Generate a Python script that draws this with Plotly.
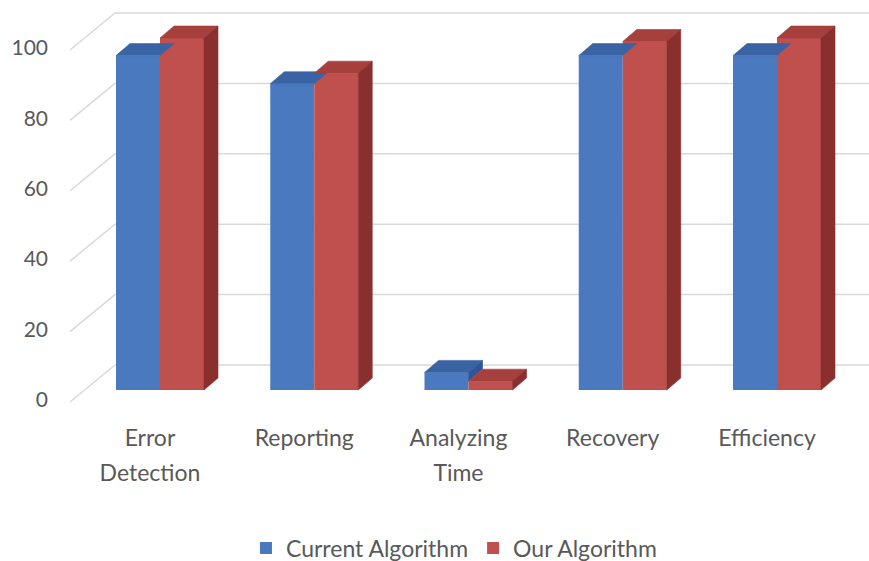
import plotly.graph_objects as go

categories = ["Error<br>Detection", "Reporting", "Analyzing<br>Time", "Recovery", "Efficiency"]
current_alg = [95, 87, 5, 95, 95]
our_alg = [100, 90, 2.5, 99, 100]
y_ticks = [0, 20, 40, 60, 80, 100]
series_names = ["Current Algorithm", "Our Algorithm"]

# styling / geometry (pixel-derived constants)
PX_X = 154.25        # pixels per category unit
PX_Y = 3.52          # pixels per value unit
X_MIN = -160 / PX_X
X_MAX = X_MIN + 869 / PX_X
Y_MAX = 390 / PX_Y
Y_MIN = Y_MAX - 561 / PX_Y
BAR_W = 44 / PX_X
DX = 14 / PX_X
DY = 12 / PX_Y
WALL_FRONT_X = X_MIN + 70 / PX_X
WALL_BACK_X = X_MIN + 115 / PX_X
WALL_FRONT_DY = -3.4
WALL_BACK_DY = 7.1
LABEL_Y1 = -11.0
LABEL_LINE = 35 / PX_Y

FRONT = ["#4a79c0", "#c0504d"]
TOP = ["#3a63a3", "#a5403d"]
SIDE = ["#2f5597", "#8a2f2d"]
GRID = "#d9d9d9"
TXT = "#595959"
FONT = "Lato, Open Sans, sans-serif"

fig = go.Figure()
series = [current_alg, our_alg]
offsets = [-BAR_W, 0]
idx = list(range(len(categories)))

# front faces as bars
for s, vals in enumerate(series):
    fig.add_trace(go.Bar(
        x=idx, y=vals, name=series_names[s], width=BAR_W, offset=offsets[s],
        marker=dict(color=FRONT[s], line=dict(width=0)), showlegend=True,
        hoverinfo="skip"))

# top and side faces
for s, vals in enumerate(series):
    for i, v in enumerate(vals):
        x0 = i + offsets[s]
        x1 = x0 + BAR_W
        tx = [x0, x1, x1 + DX, x0 + DX, x0]
        ty = [v, v, v + DY, v + DY, v]
        fig.add_trace(go.Scatter(x=tx, y=ty, fill="toself", mode="lines",
                                 fillcolor=TOP[s], line=dict(color=TOP[s], width=0.6),
                                 showlegend=False, hoverinfo="skip"))
        base = series[s + 1][i] if s + 1 < len(series) else 0
        if v > base:
            sx = [x1, x1 + DX, x1 + DX, x1, x1]
            sy = [base, base + DY, v + DY, v, base]
            fig.add_trace(go.Scatter(x=sx, y=sy, fill="toself", mode="lines",
                                     fillcolor=SIDE[s], line=dict(color=SIDE[s], width=0.6),
                                     showlegend=False, hoverinfo="skip"))

# gridlines on back wall and left wall (below traces)
shapes = []
for t in y_ticks:
    shapes.append(dict(type="line", xref="x", yref="y", layer="below",
                       x0=WALL_BACK_X, x1=X_MAX, y0=t + WALL_BACK_DY, y1=t + WALL_BACK_DY,
                       line=dict(color=GRID, width=1.5)))
    shapes.append(dict(type="line", xref="x", yref="y", layer="below",
                       x0=WALL_FRONT_X, x1=WALL_BACK_X, y0=t + WALL_FRONT_DY, y1=t + WALL_BACK_DY,
                       line=dict(color=GRID, width=1.5)))

# y tick labels
fig.add_trace(go.Scatter(
    x=[WALL_FRONT_X - 22 / PX_X] * len(y_ticks), y=[t + WALL_FRONT_DY for t in y_ticks],
    text=[str(t) for t in y_ticks], mode="text", textposition="middle left",
    textfont=dict(family=FONT, size=21, color=TXT), showlegend=False, hoverinfo="skip"))

# category labels (line by line)
lines = [c.split("<br>") for c in categories]
max_lines = max(len(l) for l in lines)
for k in range(max_lines):
    fig.add_trace(go.Scatter(
        x=[i - 0.065 for i in idx], y=[LABEL_Y1 - k * LABEL_LINE] * len(idx),
        text=[l[k] if k < len(l) else "" for l in lines], mode="text",
        textposition="bottom center", textfont=dict(family=FONT, size=23, color=TXT),
        showlegend=False, hoverinfo="skip"))

fig.update_layout(
    width=869, height=561, autosize=False,
    margin=dict(l=0, r=0, t=0, b=0, autoexpand=False),
    paper_bgcolor="white", plot_bgcolor="white",
    shapes=shapes,
    xaxis=dict(range=[X_MIN, X_MAX], visible=False, fixedrange=True),
    yaxis=dict(range=[Y_MIN, Y_MAX], visible=False, fixedrange=True),
    legend=dict(orientation="h", x=0.5224, xanchor="center", y=0.023, yanchor="middle",
                font=dict(family=FONT, size=23, color=TXT), bgcolor="rgba(0,0,0,0)"),
    showlegend=True,
)

fig.write_html("out.html")
